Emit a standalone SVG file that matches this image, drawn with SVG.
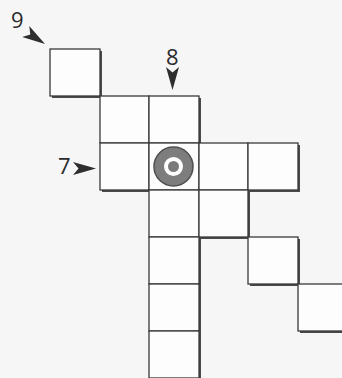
<svg xmlns="http://www.w3.org/2000/svg" width="342" height="378" viewBox="0 0 342 378">
  <style>
    .cell { fill: #fdfdfd; stroke: #3a3a3a; stroke-width: 1.3; }
    .shadow { fill: #4a4a4a; }
    .lbl { font-family: "Open Sans", "Liberation Sans", sans-serif; font-size: 22px; fill: #2a2a2a; }
    .arrow { fill: #2e2e2e; }
  </style>
  <defs>
    <path id="ah" d="M0,0 L-23,-6.5 L-17.5,0 L-23,6.5 Z"/>
  </defs>
  <rect x="0" y="0" width="342" height="378" fill="#f6f6f7"/>

  <!-- shadows -->
  <g id="shadows" class="shadow" transform="translate(2,2)">
    <rect x="50" y="49" width="50" height="47"/>
    <rect x="100" y="96" width="99" height="47"/>
    <rect x="100" y="143" width="198" height="47"/>
    <rect x="149" y="190" width="99" height="47"/>
    <rect x="149" y="237" width="50" height="141"/>
    <rect x="248" y="237" width="50" height="47"/>
    <rect x="298" y="284" width="50" height="47"/>
  </g>

  <g id="cell-9"><rect class="cell" x="50" y="49" width="50" height="47"/></g>
  <g id="cell-r2c1"><rect class="cell" x="100" y="96" width="49" height="47"/></g>
  <g id="cell-8"><rect class="cell" x="149" y="96" width="50" height="47"/></g>
  <g id="cell-7"><rect class="cell" x="100" y="143" width="49" height="47"/></g>
  <g id="cell-center">
    <rect class="cell" x="149" y="143" width="50" height="47"/>
    <circle cx="173.5" cy="166.5" r="19.5" fill="#7d7d7d" stroke="#505050" stroke-width="1.5"/>
    <circle cx="173.5" cy="166.5" r="7.5" fill="#7a7a7a" stroke="#ffffff" stroke-width="4"/>
  </g>
  <g id="cell-r3c4"><rect class="cell" x="199" y="143" width="49" height="47"/></g>
  <g id="cell-r3c5"><rect class="cell" x="248" y="143" width="50" height="47"/></g>
  <g id="cell-r4c3"><rect class="cell" x="149" y="190" width="50" height="47"/></g>
  <g id="cell-r4c4"><rect class="cell" x="199" y="190" width="49" height="47"/></g>
  <g id="cell-r5c3"><rect class="cell" x="149" y="237" width="50" height="47"/></g>
  <g id="cell-r5c5"><rect class="cell" x="248" y="237" width="50" height="47"/></g>
  <g id="cell-r6c3"><rect class="cell" x="149" y="284" width="50" height="47"/></g>
  <g id="cell-r6c6"><rect class="cell" x="298" y="284" width="50" height="47"/></g>
  <g id="cell-r7c3"><rect class="cell" x="149" y="331" width="50" height="47"/></g>

  <g id="labels">
    <text class="lbl" x="11" y="28">9</text>
    <text class="lbl" x="166" y="65">8</text>
    <text class="lbl" x="58" y="174">7</text>
  </g>
  <g id="connectors" class="arrow">
    <use href="#ah" transform="translate(45,44) rotate(33)"/>
    <use href="#ah" transform="translate(172.5,90) rotate(90)"/>
    <use href="#ah" transform="translate(96,168.5)"/>
  </g>
</svg>
